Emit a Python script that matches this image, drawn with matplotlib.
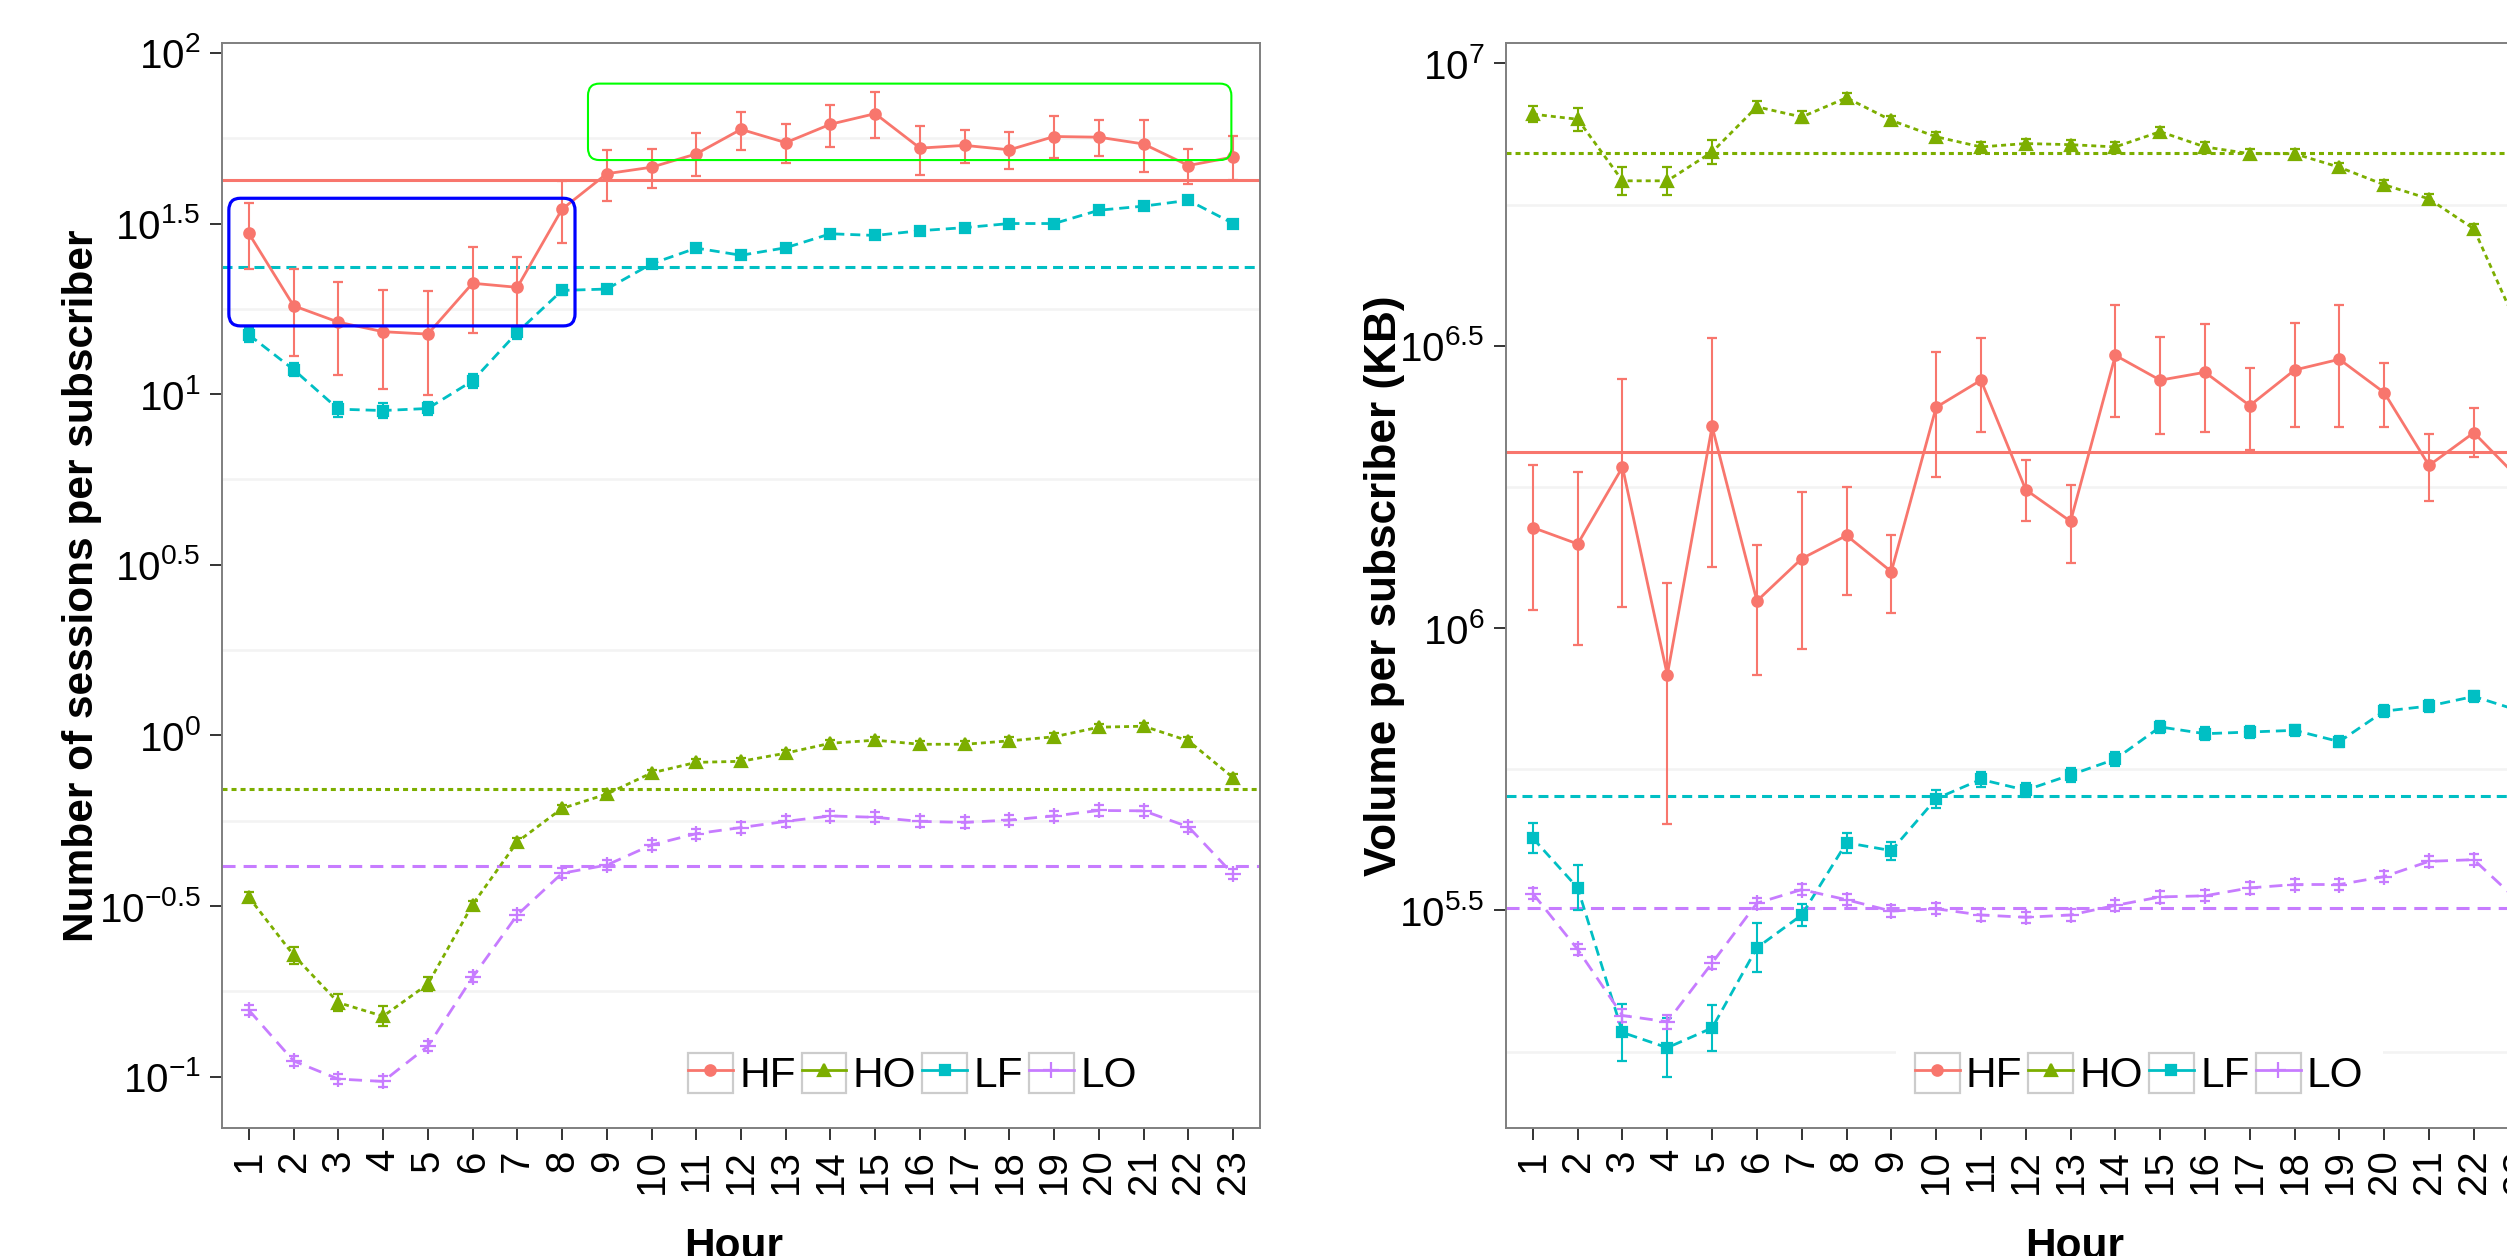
import matplotlib as mpl
mpl.use('Agg')
import matplotlib.pyplot as plt
import numpy as np
from matplotlib.lines import Line2D
from matplotlib.patches import Rectangle, FancyBboxPatch
from matplotlib.legend_handler import HandlerLine2D
from matplotlib.ticker import NullFormatter

plt.rcParams['font.family'] = ['Liberation Sans', 'DejaVu Sans']
plt.rcParams['mathtext.fontset'] = 'custom'
plt.rcParams['mathtext.rm'] = 'Liberation Sans'
plt.rcParams['mathtext.it'] = 'Liberation Sans:italic'
plt.rcParams['mathtext.bf'] = 'Liberation Sans:bold'
plt.rcParams['lines.scale_dashes'] = False

hours = np.arange(1, 24)
groups = ['HF', 'HO', 'LF', 'LO']

# sessions per subscriber, log10 values per hour
sess_hf = np.array([1.471, 1.259, 1.211, 1.183, 1.176, 1.325, 1.313, 1.542, 1.646, 1.665, 1.704, 1.776,
                    1.737, 1.791, 1.822, 1.721, 1.729, 1.716, 1.755, 1.753, 1.733, 1.670, 1.695])
sess_hf_lo = np.array([1.367, 1.112, 1.056, 1.015, 0.997, 1.180, 1.196, 1.444, 1.565, 1.604, 1.638, 1.715,
                       1.677, 1.724, 1.750, 1.643, 1.676, 1.660, 1.691, 1.697, 1.650, 1.617, 1.629])
sess_hf_hi = np.array([1.559, 1.366, 1.328, 1.304, 1.301, 1.431, 1.402, 1.624, 1.714, 1.718, 1.764, 1.828,
                       1.793, 1.847, 1.885, 1.787, 1.775, 1.768, 1.814, 1.802, 1.802, 1.718, 1.756])
sess_ho = np.array([-0.474, -0.644, -0.783, -0.823, -0.729, -0.496, -0.312, -0.214, -0.172, -0.110, -0.079, -0.076,
                    -0.052, -0.023, -0.014, -0.026, -0.026, -0.016, -0.004, 0.024, 0.027, -0.016, -0.124])
sess_ho_err = np.array([0.015, 0.025, 0.025, 0.03, 0.02, 0.012, 0.01, 0.01, 0.01, 0.01, 0.01, 0.01,
                        0.01, 0.01, 0.01, 0.01, 0.01, 0.01, 0.01, 0.01, 0.01, 0.01, 0.012])
sess_lf = np.array([1.174, 1.072, 0.956, 0.952, 0.958, 1.039, 1.181, 1.304, 1.308, 1.382, 1.428, 1.407,
                    1.429, 1.470, 1.465, 1.479, 1.488, 1.500, 1.500, 1.539, 1.551, 1.568, 1.500])
sess_lf_err = np.array([0.02, 0.02, 0.022, 0.022, 0.02, 0.02, 0.018, 0.012, 0.012, 0.01, 0.01, 0.01,
                        0.01, 0.01, 0.01, 0.01, 0.01, 0.01, 0.01, 0.01, 0.008, 0.008, 0.01])
sess_lo = np.array([-0.805, -0.954, -1.007, -1.014, -0.911, -0.709, -0.526, -0.404, -0.380, -0.321, -0.288, -0.270,
                    -0.252, -0.236, -0.240, -0.252, -0.255, -0.248, -0.236, -0.220, -0.221, -0.268, -0.407])
sess_lo_err = np.full(23, 0.015)
sess_means = [1.628, -0.158, 1.374, -0.384]

# volume per subscriber (KB), log10 values per hour
vol_hf = np.array([6.178, 6.149, 6.285, 5.917, 6.357, 6.048, 6.123, 6.164, 6.100, 6.391, 6.439, 6.245,
                   6.189, 6.483, 6.439, 6.453, 6.394, 6.457, 6.476, 6.417, 6.288, 6.346, 6.265])
vol_hf_lo = np.array([6.032, 5.970, 6.037, 5.654, 6.109, 5.917, 5.963, 6.058, 6.026, 6.268, 6.348, 6.189,
                      6.116, 6.374, 6.344, 6.348, 6.315, 6.356, 6.356, 6.356, 6.225, 6.303, 6.180])
vol_hf_hi = np.array([6.288, 6.277, 6.441, 6.079, 6.514, 6.147, 6.241, 6.250, 6.164, 6.489, 6.514, 6.297,
                      6.254, 6.572, 6.516, 6.539, 6.460, 6.540, 6.572, 6.470, 6.344, 6.389, 6.340])
vol_ho = np.array([6.910, 6.901, 6.792, 6.792, 6.843, 6.923, 6.905, 6.939, 6.899, 6.870, 6.852, 6.858,
                   6.856, 6.852, 6.879, 6.852, 6.840, 6.840, 6.816, 6.785, 6.760, 6.707, 6.530])
vol_ho_err = np.array([0.014, 0.02, 0.025, 0.025, 0.022, 0.01, 0.01, 0.008, 0.008, 0.008, 0.008, 0.008,
                       0.008, 0.008, 0.008, 0.008, 0.008, 0.008, 0.008, 0.008, 0.008, 0.008, 0.01])
vol_lf = np.array([5.628, 5.540, 5.284, 5.257, 5.292, 5.434, 5.492, 5.620, 5.606, 5.698, 5.732, 5.713,
                   5.740, 5.768, 5.825, 5.813, 5.816, 5.819, 5.799, 5.853, 5.862, 5.879, 5.854])
vol_lf_err = np.array([0.027, 0.04, 0.05, 0.052, 0.04, 0.043, 0.02, 0.018, 0.016, 0.016, 0.014, 0.012,
                       0.013, 0.013, 0.01, 0.012, 0.01, 0.01, 0.01, 0.01, 0.01, 0.01, 0.01])
vol_lo = np.array([5.530, 5.431, 5.314, 5.303, 5.407, 5.513, 5.537, 5.519, 5.499, 5.503, 5.492, 5.488,
                   5.492, 5.509, 5.524, 5.526, 5.540, 5.546, 5.546, 5.560, 5.587, 5.590, 5.516])
vol_lo_err = np.array([0.01, 0.01, 0.012, 0.012, 0.01, 0.01, 0.01, 0.01, 0.01, 0.01, 0.01, 0.01,
                       0.01, 0.01, 0.01, 0.01, 0.01, 0.01, 0.01, 0.01, 0.01, 0.01, 0.01])
vol_means = [6.312, 6.841, 5.703, 5.504]

colors = {'HF': '#F8766D', 'HO': '#7CAE00', 'LF': '#00BFC4', 'LO': '#C77CFF'}
markers = {'HF': 'o', 'HO': '^', 'LF': 's', 'LO': '+'}
msizes = {'HF': 7.5, 'HO': 9.0, 'LF': 7.5, 'LO': 11.0}
styles = {'HF': '-', 'HO': (0, (3.6, 2.9)), 'LF': (0, (7.2, 4.3)), 'LO': (0, (9.4, 5.8))}

FS_TICK = 29
FS_TITLE = 30.5
FS_LEG = 30.5


class KeyBoxHandler(HandlerLine2D):
    # legend key drawn inside a grey square, like ggplot keys
    def create_artists(self, legend, orig_handle, xdescent, ydescent, width, height, fontsize, trans):
        box = Rectangle((-xdescent, -ydescent), width, height, facecolor='white',
                        edgecolor='#CCCCCC', linewidth=1.6, transform=trans)
        arts = super().create_artists(legend, orig_handle, xdescent, ydescent,
                                      width, height, fontsize, trans)
        return [box] + list(arts)


def draw_panel(ax, series, means, ylim, major, minor, ylabel, ylab_fs, leg_x, xlab_x, ylab_x):
    for g, (mid, lo, hi) in zip(groups, series):
        y = 10 ** mid
        yerr = [y - 10 ** lo, 10 ** hi - y]
        ax.errorbar(hours, y, yerr=yerr, color=colors[g], marker=markers[g], ms=msizes[g],
                    mew=1.6, linestyle=styles[g], lw=2.0, elinewidth=1.5, capsize=3.8,
                    capthick=1.5, zorder=3)
    for g, m in zip(groups, means):
        ax.axhline(10 ** m, color=colors[g], linestyle=styles[g], lw=2.2, zorder=2)

    ax.set_yscale('log')
    ax.set_ylim(10 ** ylim[0], 10 ** ylim[1])
    ax.set_yticks([10 ** e for e in major], labels=[r'$\mathregular{10^{%g}}$' % e for e in major])
    ax.set_yticks([10 ** e for e in minor], minor=True)
    ax.yaxis.set_minor_formatter(NullFormatter())
    ax.grid(which='minor', axis='y', color='#F3F3F3', lw=1.8, zorder=0)
    ax.grid(which='major', visible=False)

    ax.set_xlim(0.4, 23.6)
    ax.set_xticks(hours, labels=[str(h) for h in hours], rotation=90)

    ax.tick_params(axis='both', which='major', labelsize=FS_TICK, color='#333333',
                   width=1.4, length=8.5, pad=7)
    ax.tick_params(axis='y', which='minor', length=0)
    for sp in ax.spines.values():
        sp.set_color('#7F7F7F')
        sp.set_linewidth(1.4)

    ax.set_xlabel('Hour', fontsize=FS_TITLE, fontweight='bold')
    ax.set_ylabel(ylabel, fontsize=ylab_fs, fontweight='bold')
    ax.xaxis.set_label_coords(xlab_x, -0.0915)
    ax.yaxis.set_label_coords(ylab_x, 0.5)

    handles = [Line2D([], [], color=colors[g], marker=markers[g], ms=msizes[g], mew=1.6,
                      lw=2.0, linestyle='-') for g in groups]
    ax.legend(handles, groups, ncol=4, loc='center', bbox_to_anchor=(leg_x, 0.049),
              fontsize=FS_LEG, handlelength=1.06, handleheight=1.06, handletextpad=0.15,
              columnspacing=0.14, borderpad=0.45, borderaxespad=0, frameon=True,
              fancybox=False, framealpha=1, facecolor='white', edgecolor='none',
              handler_map={Line2D: KeyBoxHandler()})


def highlight(ax, x0, x1, e0, e1, color, lw):
    # rounded box around a range of hours, given in data units
    inv = ax.transAxes.inverted()
    (ax0, ay0) = inv.transform(ax.transData.transform((x0, 10 ** e0)))
    (ax1, ay1) = inv.transform(ax.transData.transform((x1, 10 ** e1)))
    box = FancyBboxPatch((ax0, ay0), ax1 - ax0, ay1 - ay0,
                         boxstyle='round,pad=0,rounding_size=0.011', transform=ax.transAxes,
                         fill=False, edgecolor=color, linewidth=lw, zorder=4)
    ax.add_patch(box)


fig = plt.figure(figsize=(25.07, 12.56), dpi=100)
ax1 = fig.add_axes([222 / 2507, 0.10215, 1038 / 2507, 0.86361])
ax2 = fig.add_axes([1506 / 2507, 0.10215, 1039.5 / 2507, 0.86361])

draw_panel(ax1,
           [(sess_hf, sess_hf_lo, sess_hf_hi),
            (sess_ho, sess_ho - sess_ho_err, sess_ho + sess_ho_err),
            (sess_lf, sess_lf - sess_lf_err, sess_lf + sess_lf_err),
            (sess_lo, sess_lo - sess_lo_err, sess_lo + sess_lo_err)],
           sess_means, (-1.1496, 2.029), [-1, -0.5, 0, 0.5, 1, 1.5, 2],
           [-0.75, -0.25, 0.25, 0.75, 1.25, 1.75],
           'Number of sessions per subscriber', FS_TITLE, 0.665, 0.493, -0.116)

draw_panel(ax2,
           [(vol_hf, vol_hf_lo, vol_hf_hi),
            (vol_ho, vol_ho - vol_ho_err, vol_ho + vol_ho_err),
            (vol_lf, vol_lf - vol_lf_err, vol_lf + vol_lf_err),
            (vol_lo, vol_lo - vol_lo_err, vol_lo + vol_lo_err)],
           vol_means, (5.1154, 7.036), [5.5, 6, 6.5, 7], [5.25, 5.75, 6.25, 6.75],
           'Volume per subscriber (KB)', 31.8, 0.609, 0.547, -0.097)

highlight(ax1, 0.553, 8.29, 1.2, 1.574, '#0000FF', 2.3)
highlight(ax1, 8.58, 22.96, 1.686, 1.91, '#00FF00', 1.5)

fig.savefig('out.png', dpi=100)
